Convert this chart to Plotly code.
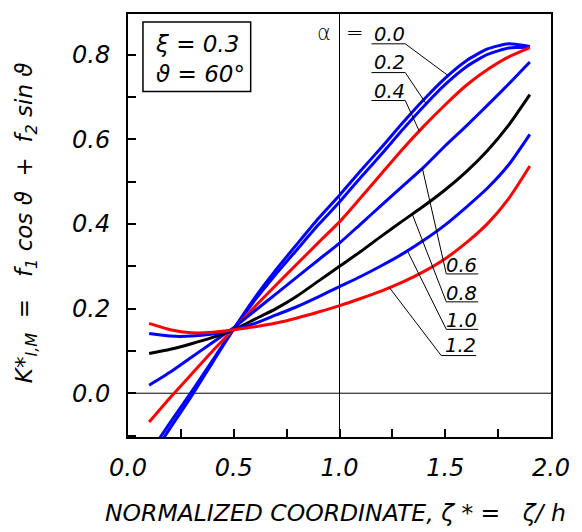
import numpy as np
import plotly.graph_objects as go

# ---------------- data ----------------
x_vals = [0.1, 0.2, 0.3, 0.4, 0.5, 0.6, 0.7, 0.8, 0.9, 1.0,
          1.1, 1.2, 1.3, 1.4, 1.5, 1.6, 1.7, 1.8, 1.9]

k_alpha_00 = [-0.158, -0.082, -0.007, 0.073, 0.152, 0.226, 0.292, 0.353, 0.413, 0.468,
              0.526, 0.582, 0.640, 0.695, 0.745, 0.786, 0.814, 0.826, 0.820]
k_alpha_02 = [-0.143, -0.069, 0.003, 0.078, 0.152, 0.220, 0.282, 0.340, 0.398, 0.452,
              0.510, 0.566, 0.624, 0.679, 0.730, 0.772, 0.801, 0.816, 0.818]
k_alpha_04 = [-0.068, -0.010, 0.045, 0.100, 0.152, 0.205, 0.256, 0.306, 0.356, 0.405,
              0.462, 0.520, 0.578, 0.632, 0.682, 0.728, 0.765, 0.795, 0.817]
k_alpha_06 = [0.019, 0.050, 0.085, 0.120, 0.155, 0.195, 0.235, 0.275, 0.315, 0.355,
              0.400, 0.445, 0.490, 0.535, 0.585, 0.632, 0.681, 0.731, 0.783]
k_alpha_08 = [0.094, 0.104, 0.117, 0.132, 0.150, 0.175, 0.200, 0.230, 0.265, 0.300,
              0.335, 0.372, 0.408, 0.443, 0.481, 0.524, 0.574, 0.634, 0.706]
k_alpha_10 = [0.141, 0.135, 0.135, 0.140, 0.150, 0.165, 0.185, 0.205, 0.228, 0.252,
              0.276, 0.302, 0.330, 0.362, 0.398, 0.440, 0.485, 0.540, 0.612]
k_alpha_12 = [0.165, 0.150, 0.143, 0.144, 0.150, 0.157, 0.166, 0.178, 0.192, 0.207,
              0.224, 0.242, 0.263, 0.288, 0.318, 0.356, 0.401, 0.460, 0.537]

alpha_labels = ["0.0", "0.2", "0.4", "0.6", "0.8", "1.0", "1.2"]
series = [k_alpha_00, k_alpha_02, k_alpha_04, k_alpha_06, k_alpha_08, k_alpha_10, k_alpha_12]
series_colors = ["#0000ff", "#0000ff", "#ff0000", "#0000ff", "#000000", "#0000ff", "#ff0000"]

x_tick_vals = [0.0, 0.5, 1.0, 1.5, 2.0]
x_tick_text = ["0.0", "0.5", "1.0", "1.5", "2.0"]
y_tick_vals = [0.0, 0.2, 0.4, 0.6, 0.8]
y_tick_text = ["0.0", "0.2", "0.4", "0.6", "0.8"]

FONT = "DejaVu Sans ExtraLight, DejaVu Sans"
WEIGHT = 200

fig = go.Figure()

# reference lines x = 1 and y = 0
fig.add_shape(type="line", xref="x", yref="paper", x0=1.0, x1=1.0, y0=0, y1=1,
              line=dict(color="black", width=1), layer="below")
fig.add_shape(type="line", xref="paper", yref="y", x0=0, x1=1, y0=0.0, y1=0.0,
              line=dict(color="black", width=1), layer="below")

for lab, ys, col in zip(alpha_labels, series, series_colors):
    fig.add_trace(go.Scatter(x=x_vals, y=ys, mode="lines", name=lab,
                             line=dict(color=col, width=3, shape="spline", smoothing=0.6),
                             hoverinfo="skip", showlegend=False))

def curve_y(idx, xq):
    return float(np.interp(xq, x_vals, series[idx]))

# label layout: (series index, text x, text y, underline y, underline x0, underline x1, leader end x)
top_specs = [
    (0, 1.236, 0.848, 0.826, 1.151, 1.311, 1.514),
    (1, 1.236, 0.781, 0.758, 1.151, 1.311, 1.410),
    (2, 1.236, 0.714, 0.692, 1.151, 1.311, 1.377),
]
bottom_specs = [
    (3, 1.578, 0.302, 0.282, 1.656, 1.505, 1.392),
    (4, 1.578, 0.236, 0.216, 1.656, 1.505, 1.344),
    (5, 1.578, 0.172, 0.151, 1.656, 1.505, 1.321),
    (6, 1.572, 0.112, 0.089, 1.646, 1.481, 1.236),
]

ann_font = dict(family=FONT, size=19.5, color="black", style="italic", weight=WEIGHT)
for idx, tx, ty, uy, ux0, ux1, lx in top_specs + bottom_specs:
    ly = curve_y(idx, lx)
    fig.add_trace(go.Scatter(x=[ux0, ux1, lx], y=[uy, uy, ly], mode="lines",
                             line=dict(color="black", width=1),
                             hoverinfo="skip", showlegend=False))
    fig.add_annotation(x=tx, y=ty, xref="x", yref="y", text=alpha_labels[idx],
                       showarrow=False, font=ann_font, xanchor="center", yanchor="middle")

sym_font = dict(family=FONT, size=21, color="black", weight=WEIGHT)
fig.add_annotation(x=0.929, y=0.852, xref="x", yref="y", text="α", showarrow=False,
                   font=sym_font, xanchor="center", yanchor="middle")
fig.add_annotation(x=1.071, y=0.852, xref="x", yref="y", text="=", showarrow=False,
                   font=sym_font, xanchor="center", yanchor="middle")

# parameter box
fig.add_shape(type="rect", xref="paper", yref="paper", x0=0.0354, x1=0.290, y0=0.8165, y1=0.981,
              line=dict(color="black", width=1.5), fillcolor="white", layer="above")
fig.add_annotation(x=0.060, y=0.894, xref="paper", yref="paper",
                   text="ξ = 0.3<br>ϑ = 60°", showarrow=False, align="left",
                   font=dict(family=FONT, size=23, color="black", style="italic", weight=WEIGHT),
                   xanchor="left", yanchor="middle")

# axis titles
fig.add_annotation(x=-0.2406, y=0.506, xref="paper", yref="paper", textangle=-90,
                   text="K*<sub>I,M</sub>  =   f<sub>1</sub> cos ϑ  +  f<sub>2</sub> sin ϑ",
                   showarrow=False,
                   font=dict(family=FONT, size=23, color="black", style="italic", weight=WEIGHT),
                   xanchor="center", yanchor="middle")
fig.add_annotation(x=0.4906, y=-0.179, xref="paper", yref="paper",
                   text="NORMALIZED COORDINATE, ζ * =   ζ/ h",
                   showarrow=False,
                   font=dict(family=FONT, size=23.5, color="black", style="italic", weight=WEIGHT),
                   xanchor="center", yanchor="middle")

tick_font = dict(family=FONT, size=24, color="black", style="italic", weight=WEIGHT)
fig.update_xaxes(range=[0, 2], tickvals=x_tick_vals, ticktext=x_tick_text,
                 ticks="inside", ticklen=8, tickwidth=1.5, tickcolor="black",
                 minor=dict(ticks="inside", dtick=0.25, ticklen=8, tickwidth=1.5, tickcolor="black"),
                 showline=True, linewidth=2, linecolor="black", mirror=True,
                 showgrid=False, zeroline=False, tickfont=tick_font, ticklabelstandoff=8)
fig.update_yaxes(range=[-0.1035, 0.8965], tickvals=y_tick_vals, ticktext=y_tick_text,
                 ticks="inside", ticklen=8, tickwidth=1.5, tickcolor="black",
                 minor=dict(ticks="inside", dtick=0.1, tick0=0, ticklen=8, tickwidth=1.5, tickcolor="black"),
                 showline=True, linewidth=2, linecolor="black", mirror=True,
                 showgrid=False, zeroline=False, tickfont=tick_font, ticklabelstandoff=11)

fig.update_layout(width=582, height=532, margin=dict(l=128, r=30, t=12, b=95),
                  paper_bgcolor="white", plot_bgcolor="white", showlegend=False)

fig.write_html("out.html")
